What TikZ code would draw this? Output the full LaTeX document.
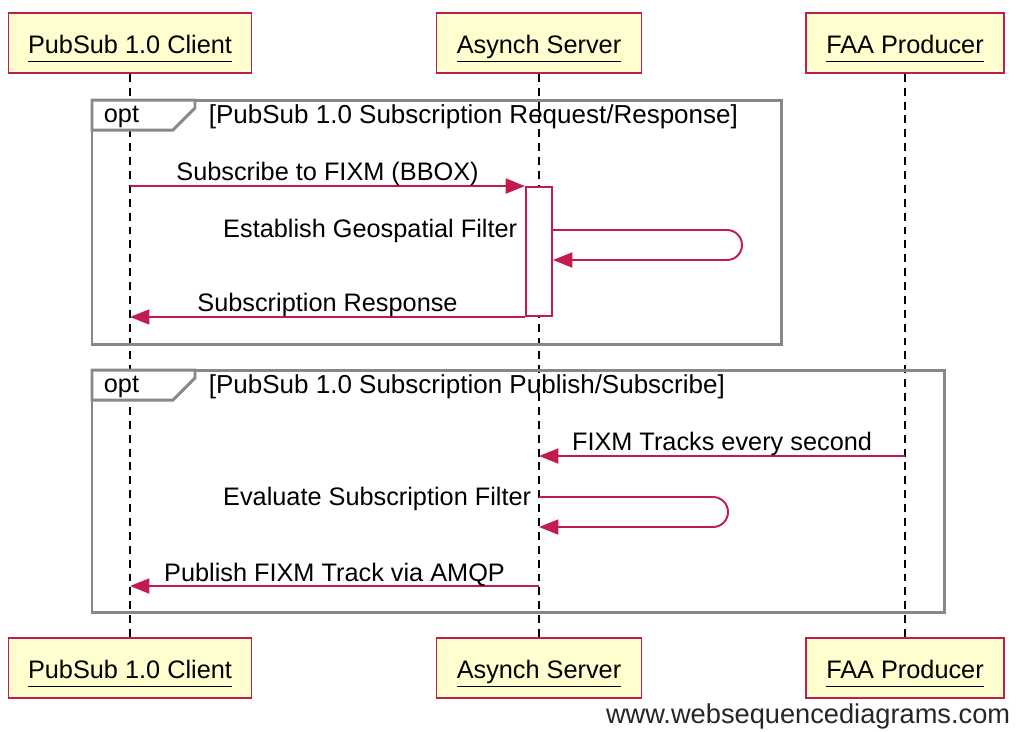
\documentclass[tikz,border=0pt]{standalone}
\usepackage{fontspec}
\setmainfont{Liberation Sans}
\usetikzlibrary{arrows.meta, positioning}

\definecolor{seqred}{RGB}{194, 28, 78}
\definecolor{seqfill}{RGB}{254, 254, 206}
\definecolor{seqgray}{RGB}{136, 136, 136}

\newcommand{\actorname}[1]{\raisebox{-3.2pt}[\height][\depth]{\underline{\vphantom{Apy}#1}}}

\tikzstyle{actor} = [draw = seqred, fill = seqfill, line width = 1.1pt, minimum height = 34pt, inner xsep = 10pt, font = \fontsize{14.4}{17}\selectfont]
\tikzstyle{lifeline} = [black, line width = 0.9pt, dash pattern = on 4.5pt off 3.4pt]
\tikzstyle{msg} = [seqred, line width = 1.1pt, -{Triangle[length = 11pt, width = 8.5pt]}]
\tikzstyle{frame} = [draw = seqgray, line width = 1.7pt]
\tikzstyle{txt} = [inner sep = 2pt, text = black, font = \fontsize{14.4}{17}\selectfont]
\tikzstyle{msgtxt} = [txt, above, yshift = -2.6pt]

\begin{document}
    \begin{tikzpicture}[x = 0.02cm, y = -0.02cm]
        \useasboundingbox (0, 0) rectangle (1016, 731);

        % participants
        \node [actor, minimum width = 4.86cm] (client) at (130, 43) {\actorname{PubSub 1.0 Client}};
        \node [actor, minimum width = 4.1cm] (server) at (539, 43) {\actorname{Asynch Server}};
        \node [actor, minimum width = 3.96cm] (producer) at (905, 43) {\actorname{FAA Producer}};
        \node [actor, minimum width = 4.86cm] (clientb) at (130, 668) {\actorname{PubSub 1.0 Client}};
        \node [actor, minimum width = 4.1cm] (serverb) at (539, 668) {\actorname{Asynch Server}};
        \node [actor, minimum width = 3.96cm] (producerb) at (905, 668) {\actorname{FAA Producer}};

        \draw [lifeline] (client) -- (clientb);
        \draw [lifeline] (server) -- (serverb);
        \draw [lifeline] (producer) -- (producerb);

        % opt frames
        \draw [frame] (92, 100) rectangle (781, 344);
        \draw [frame, fill = white] (92, 100) -- (195, 100) -- (195, 108) -- (173, 130) -- (92, 130) -- cycle;
        \node [txt, anchor = west] (optA) at (100, 117) {opt};
        \node [txt, anchor = west, font = \fontsize{14.8}{17}\selectfont] (guardA) at (205, 117) {[PubSub 1.0 Subscription Request/Response]};

        \draw [frame] (92, 370) rectangle (944, 612);
        \draw [frame, fill = white] (92, 370) -- (195, 370) -- (195, 378) -- (173, 400) -- (92, 400) -- cycle;
        \node [txt, anchor = west] (optB) at (100, 387) {opt};
        \node [txt, anchor = west, font = \fontsize{14.8}{17}\selectfont] (guardB) at (205, 387) {[PubSub 1.0 Subscription Publish/Subscribe]};

        % subscription
        \node [draw = seqred, fill = white, line width = 1.1pt, inner sep = 0pt,
                minimum width = 0.52cm, minimum height = 2.58cm
        ] (act) at (539, 251.5) {};
        \coordinate (filterA) at (0, 230);
        \coordinate (filterB) at (0, 260);

        \draw [msg] (client |- act.north) -- node [msgtxt] {Subscribe to FIXM (BBOX)} (act.north west);
        \draw [msg, rounded corners = 0.3cm] (act.east |- filterA) -- (742, 230) -- (742, 260) -- (act.east |- filterB);
        \node [txt, anchor = east] (geo) at (521, 231) {Establish Geospatial Filter};
        \draw [msg] (act.south west) -- node [msgtxt] {Subscription Response} (client |- act.south);

        % publish
        \coordinate (tracks) at (0, 456);
        \coordinate (evalA) at (0, 497);
        \coordinate (evalB) at (0, 527);
        \coordinate (publish) at (0, 586);

        \draw [msg] (producer |- tracks) -- node [msgtxt] {FIXM Tracks every second} (server |- tracks);
        \draw [msg, rounded corners = 0.3cm] (server |- evalA) -- (728, 497) -- (728, 527) -- (server |- evalB);
        \node [txt, anchor = east] (eval) at (535, 499) {Evaluate Subscription Filter};
        \draw [msg] (server |- publish) -- node [msgtxt] {Publish FIXM Track via AMQP} (client |- publish);

        \node [txt, anchor = east, text = black!85, font = \fontsize{15.5}{18}\selectfont] (credit) at (1014, 716) {www.websequencediagrams.com};
    \end{tikzpicture}
\end{document}
